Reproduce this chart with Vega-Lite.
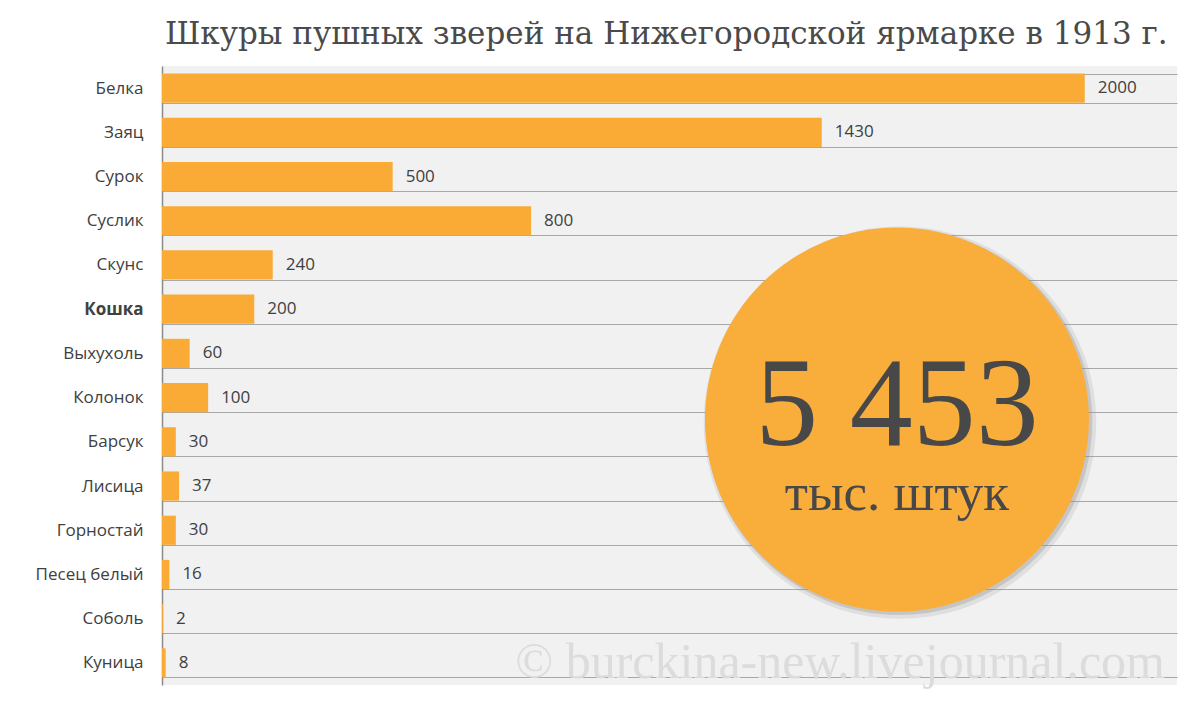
{
  "$schema": "https://vega.github.io/schema/vega-lite/v6.json",
  "autosize": {"type": "none"},
  "width": 1015,
  "height": 619,
  "padding": {"left": 162, "top": 66, "right": 21, "bottom": 19},
  "background": "#ffffff",
  "config": {
    "view": {"fill": "#f1f1f1", "stroke": null},
    "font": "Open Sans"
  },
  "title": {
    "text": "Шкуры пушных зверей на Нижегородской ярмарке в 1913 г.",
    "anchor": "start",
    "frame": "group",
    "font": "DejaVu Serif",
    "fontSize": 31,
    "fontWeight": "normal",
    "color": "#4a4a4a",
    "offset": 6,
    "dx": 3
  },
  "data": {
    "values": [
      {"animal": "Белка", "value": 2000},
      {"animal": "Заяц", "value": 1430},
      {"animal": "Сурок", "value": 500},
      {"animal": "Суслик", "value": 800},
      {"animal": "Скунс", "value": 240},
      {"animal": "Кошка", "value": 200},
      {"animal": "Выхухоль", "value": 60},
      {"animal": "Колонок", "value": 100},
      {"animal": "Барсук", "value": 30},
      {"animal": "Лисица", "value": 37},
      {"animal": "Горностай", "value": 30},
      {"animal": "Песец белый", "value": 16},
      {"animal": "Соболь", "value": 2},
      {"animal": "Куница", "value": 8}
    ]
  },
  "encoding": {
    "y": {
      "field": "animal",
      "type": "nominal",
      "sort": null,
      "scale": {"paddingInner": 0.34, "paddingOuter": 0.17},
      "axis": {
        "title": null,
        "ticks": false,
        "labelPadding": 19,
        "labelFontSize": 17,
        "labelColor": "#404040",
        "labelFont": "Open Sans",
        "labelFontWeight": {"condition": {"test": "datum.value === 'Кошка'", "value": "bold"}, "value": "normal"},
        "domainColor": "#8a8a8a",
        "domainWidth": 1.5,
        "grid": true,
        "tickBand": "extent",
        "gridColor": "#a8a8a8",
        "gridWidth": 1
      }
    }
  },
  "layer": [
    {
      "mark": {"type": "bar", "color": "#F9AB36"},
      "encoding": {
        "x": {"field": "value", "type": "quantitative", "scale": {"domain": [0, 2200], "nice": false}, "axis": null}
      }
    },
    {
      "mark": {"type": "text", "align": "left", "baseline": "middle", "dx": 13, "fontSize": 17, "color": "#404040", "font": "Open Sans"},
      "encoding": {
        "x": {"field": "value", "type": "quantitative"},
        "text": {"field": "value", "type": "quantitative", "format": "d"}
      }
    },
    {
      "data": {"values": [{"total": 5453}]},
      "mark": {"type": "point", "shape": "circle", "filled": true, "color": "#9a9a9a", "opacity": 0.2, "size": 154000, "yOffset": 25, "xOffset": 3},
      "encoding": {"x": {"datum": 1593}, "y": {"datum": "Колонок"}}
    },
    {
      "data": {"values": [{"total": 5453}]},
      "mark": {"type": "point", "shape": "circle", "filled": true, "color": "#8a8a8a", "opacity": 0.3, "size": 149500, "yOffset": 24, "xOffset": 2},
      "encoding": {"x": {"datum": 1593}, "y": {"datum": "Колонок"}}
    },
    {
      "data": {"values": [{"total": 5453}]},
      "mark": {"type": "point", "shape": "circle", "filled": true, "color": "#F9AE3B", "opacity": 1, "size": 147456, "yOffset": 22},
      "encoding": {"x": {"datum": 1593}, "y": {"datum": "Колонок"}}
    },
    {
      "data": {"values": [{"label": "5 453"}]},
      "mark": {"type": "text", "align": "center", "baseline": "alphabetic", "dy": 3, "fontSize": 126, "font": "Liberation Serif", "color": "#484848"},
      "encoding": {"x": {"datum": 1593}, "y": {"datum": "Барсук"}, "text": {"field": "label"}}
    },
    {
      "data": {"values": [{"label": "тыс. штук"}]},
      "mark": {"type": "text", "align": "center", "baseline": "alphabetic", "dy": 24, "fontSize": 53, "font": "Liberation Serif", "color": "#484848"},
      "encoding": {"x": {"datum": 1593}, "y": {"datum": "Лисица"}, "text": {"field": "label"}}
    },
    {
      "data": {"values": [{"label": "© burckina-new.livejournal.com"}]},
      "mark": {"type": "text", "align": "right", "baseline": "alphabetic", "dy": 15, "fontSize": 50, "font": "Liberation Serif", "color": "#dcdcdc"},
      "encoding": {"x": {"datum": 2174}, "y": {"datum": "Куница"}, "text": {"field": "label"}}
    }
  ]
}
